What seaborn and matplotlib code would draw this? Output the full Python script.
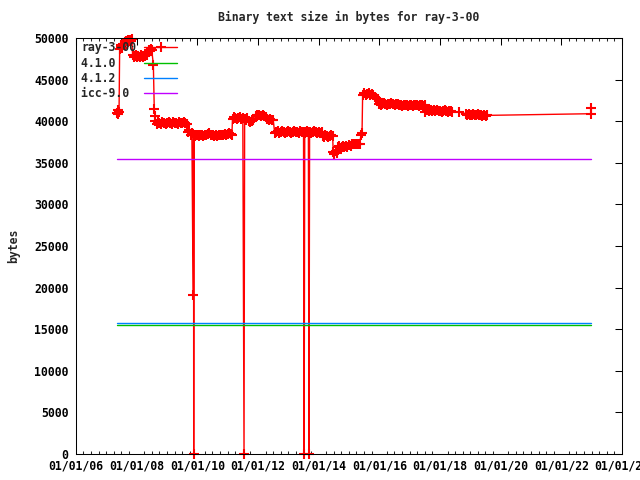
import datetime as dt
import pandas as pd
import matplotlib
matplotlib.use("Agg")
import matplotlib.pyplot as plt
import matplotlib.dates as mdates
import seaborn as sns

# ray-3-00 build sizes (decimal year, bytes)
ray_year = [
    2007.35, 2007.37, 2007.40, 2007.42, 2007.44, 2007.47, 2007.50, 2007.53, 2007.56, 2007.60,
    2007.63, 2007.66, 2007.70, 2007.73, 2007.77, 2007.80, 2007.84, 2007.87, 2007.90, 2007.94,
    2007.98, 2008.02, 2008.06, 2008.10, 2008.14, 2008.18, 2008.22, 2008.26, 2008.30, 2008.34,
    2008.38, 2008.42, 2008.45, 2008.48, 2008.50, 2008.55, 2008.58, 2008.60, 2008.62, 2008.66,
    2008.70, 2008.75, 2008.80, 2008.85, 2008.90, 2008.95, 2009.00, 2009.05, 2009.10, 2009.15,
    2009.20, 2009.25, 2009.30, 2009.35, 2009.40, 2009.45, 2009.50, 2009.55, 2009.60, 2009.65,
    2009.70, 2009.74, 2009.78, 2009.82, 2009.86, 2009.875, 2009.88, 2009.89, 2009.93, 2009.97,
    2010.01, 2010.05, 2010.10, 2010.15, 2010.20, 2010.25, 2010.30, 2010.35, 2010.40, 2010.45,
    2010.50, 2010.55, 2010.60, 2010.65, 2010.70, 2010.75, 2010.80, 2010.85, 2010.90, 2010.95,
    2011.00, 2011.05, 2011.10, 2011.14, 2011.16, 2011.20, 2011.25, 2011.30, 2011.35, 2011.40,
    2011.45, 2011.50, 2011.54, 2011.56, 2011.60, 2011.65, 2011.70, 2011.75, 2011.80, 2011.85,
    2011.92, 2011.96, 2012.00, 2012.05, 2012.10, 2012.15, 2012.20, 2012.25, 2012.30, 2012.35,
    2012.40, 2012.45, 2012.50, 2012.55, 2012.60, 2012.65, 2012.70, 2012.75, 2012.80, 2012.85,
    2012.90, 2012.95, 2013.00, 2013.05, 2013.10, 2013.15, 2013.20, 2013.25, 2013.30, 2013.35,
    2013.40, 2013.45, 2013.50, 2013.52, 2013.54, 2013.58, 2013.62, 2013.66, 2013.68, 2013.70,
    2013.75, 2013.80, 2013.85, 2013.90, 2013.95, 2014.00, 2014.05, 2014.10, 2014.13, 2014.18,
    2014.22, 2014.27, 2014.32, 2014.37, 2014.42, 2014.46, 2014.48, 2014.52, 2014.56, 2014.60,
    2014.64, 2014.68, 2014.72, 2014.76, 2014.80, 2014.85, 2014.90, 2014.95, 2015.00, 2015.05,
    2015.10, 2015.15, 2015.20, 2015.25, 2015.30, 2015.35, 2015.40, 2015.43, 2015.45, 2015.50,
    2015.55, 2015.60, 2015.65, 2015.70, 2015.75, 2015.80, 2015.85, 2015.90, 2015.95, 2016.00,
    2016.05, 2016.10, 2016.15, 2016.20, 2016.25, 2016.30, 2016.35, 2016.40, 2016.45, 2016.50,
    2016.55, 2016.60, 2016.65, 2016.70, 2016.75, 2016.80, 2016.85, 2016.90, 2016.95, 2017.00,
    2017.05, 2017.10, 2017.15, 2017.20, 2017.25, 2017.30, 2017.35, 2017.40, 2017.45, 2017.50,
    2017.52, 2017.56, 2017.60, 2017.65, 2017.70, 2017.75, 2017.80, 2017.85, 2017.90, 2017.95,
    2018.00, 2018.05, 2018.10, 2018.15, 2018.20, 2018.25, 2018.30, 2018.35, 2018.40, 2018.62,
    2018.86, 2018.90, 2018.95, 2019.00, 2019.05, 2019.10, 2019.15, 2019.20, 2019.25, 2019.30,
    2019.35, 2019.40, 2019.45, 2019.50, 2019.55, 2022.98, 2022.98,
]
ray_bytes = [
    41000, 41300, 40900, 41100, 48700, 48900, 49100, 48800, 49300, 49500,
    49200, 49600, 49800, 49500, 49700, 49600, 49900, 47900, 47700, 47800,
    47900, 47700, 47800, 47700, 47900, 47800, 47700, 47800, 47900, 48000,
    48300, 48600, 48400, 48700, 48500, 46800, 41500, 40600, 40000, 39700,
    39900, 39800, 39700, 39900, 39800, 39700, 39800, 39900, 39800, 39700,
    39900, 39800, 39800, 39700, 39900, 39800, 39800, 39900, 39800, 39700,
    38700, 38900, 38400, 38600, 19100, 38400, 0, 38300, 38200, 38400,
    38300, 38200, 38300, 38400, 38200, 38300, 38300, 38500, 38600, 38400,
    38300, 38200, 38300, 38200, 38300, 38400, 38300, 38400, 38500, 38400,
    38500, 38600, 38500, 38400, 40300, 40500, 40400, 40300, 40400, 40500,
    40300, 40400, 0, 40300, 40200, 40400, 40000, 39900, 40000, 40100,
    40600, 40700, 40800, 40700, 40600, 40700, 40600, 40500, 40300, 40200,
    40300, 40100, 40200, 38600, 38700, 38800, 38600, 38700, 38800, 38700,
    38600, 38700, 38800, 38700, 38600, 38700, 38800, 38700, 38700, 38600,
    38800, 38700, 38700, 0, 38600, 38700, 38800, 38700, 0, 38700,
    38600, 38700, 38800, 38700, 38600, 38700, 38600, 38700, 38200, 38100,
    38300, 38200, 38100, 38200, 38300, 38200, 36300, 36100, 36400, 36200,
    36900, 37000, 36800, 36900, 37000, 36900, 37000, 36900, 37100, 37000,
    37200, 37300, 37200, 37300, 37200, 37300, 38400, 38600, 43200, 43400,
    43200, 43300, 43400, 43200, 43300, 43100, 42900, 42800, 42700, 42100,
    42000, 42100, 42200, 42100, 42000, 42100, 42100, 42200, 42100, 42000,
    42100, 42100, 42000, 41900, 41800, 41900, 42000, 41900, 41800, 41900,
    41900, 41800, 41900, 42000, 41900, 41800, 41900, 41900, 41800, 41900,
    41100, 41300, 41400, 41200, 41300, 41200, 41300, 41200, 41300, 41200,
    41200, 41100, 41200, 41300, 41200, 41100, 41200, 41200, 41100, 41100,
    40900, 40800, 40900, 40800, 40700, 40900, 40800, 40800, 40900, 40800,
    40700, 40600, 40700, 40600, 40700, 40900, 41600,
]

# compiler reference sizes (constant lines)
ref_year = [2007.35, 2022.98]
gcc410_bytes = [15550, 15550]
gcc412_bytes = [15700, 15700]
icc90_bytes = [35500, 35500]

series_names = ["ray-3-00", "4.1.0", "4.1.2", "icc-9.0"]
series_colors = ["#ff0000", "#00c000", "#0080ff", "#c000ff"]


def to_date(y):
    year = int(y)
    start = dt.datetime(year, 1, 1)
    end = dt.datetime(year + 1, 1, 1)
    return start + (end - start) * (y - year)


ray = pd.DataFrame({"date": [to_date(y) for y in ray_year], "bytes": ray_bytes})
ref_dates = [to_date(y) for y in ref_year]

sns.set_theme(style="white")
plt.rcParams["font.family"] = ["DejaVu Sans Mono"]
plt.rcParams["font.weight"] = "bold"
fs = 8.3

fig = plt.figure(figsize=(6.4, 4.8), dpi=100)
ax = fig.add_axes([76 / 640, 26 / 480, 546 / 640, 416 / 480])

lw = 1.0
# legend labels padded so the monospace text reads left-aligned
pad = max(len(n) for n in series_names)
sns.lineplot(data=ray, x="date", y="bytes", ax=ax, color=series_colors[0], lw=lw,
             marker="+", markersize=7, markeredgewidth=1.5, mec=series_colors[0],
             estimator=None, sort=False, label=series_names[0].ljust(pad),
             clip_on=False)
for name, col, vals in zip(series_names[1:], series_colors[1:],
                           [gcc410_bytes, gcc412_bytes, icc90_bytes]):
    sns.lineplot(x=ref_dates, y=vals, ax=ax, color=col, lw=lw,
                 estimator=None, sort=False, label=name.ljust(pad))

ax.set_xlim(dt.datetime(2006, 1, 1), dt.datetime(2024, 1, 1))
ax.set_ylim(0, 50000)
ax.set_yticks(range(0, 50001, 5000))
ax.xaxis.set_major_locator(mdates.YearLocator(2))
ax.xaxis.set_minor_locator(mdates.MonthLocator(bymonth=[1, 4, 7, 10]))
ax.xaxis.set_major_formatter(mdates.DateFormatter("%m/%d/%y"))

ax.tick_params(axis="both", which="major", direction="in", length=5, width=0.75,
               top=True, right=True, labelsize=fs, colors="black")
ax.tick_params(axis="x", which="minor", direction="in", length=2.5, width=0.75,
               top=True, bottom=True)
ax.tick_params(axis="x", which="major", pad=4)
ax.tick_params(axis="y", which="major", pad=5.5)
for s in ax.spines.values():
    s.set_color("black")
    s.set_linewidth(0.75)

ax.set_title("Binary text size in bytes for ray-3-00", fontsize=fs, pad=12,
             fontweight="bold")
ax.set_xlabel("")
ax.set_ylabel("bytes", fontsize=fs, labelpad=10, fontweight="bold")

ax.legend(loc="upper left", bbox_to_anchor=(0.009, 0.992), frameon=False,
          markerfirst=False, fontsize=fs, handlelength=2.9, handletextpad=0.7,
          labelspacing=0.2, borderpad=0, borderaxespad=0, numpoints=1)

fig.savefig("out.png", dpi=100)
